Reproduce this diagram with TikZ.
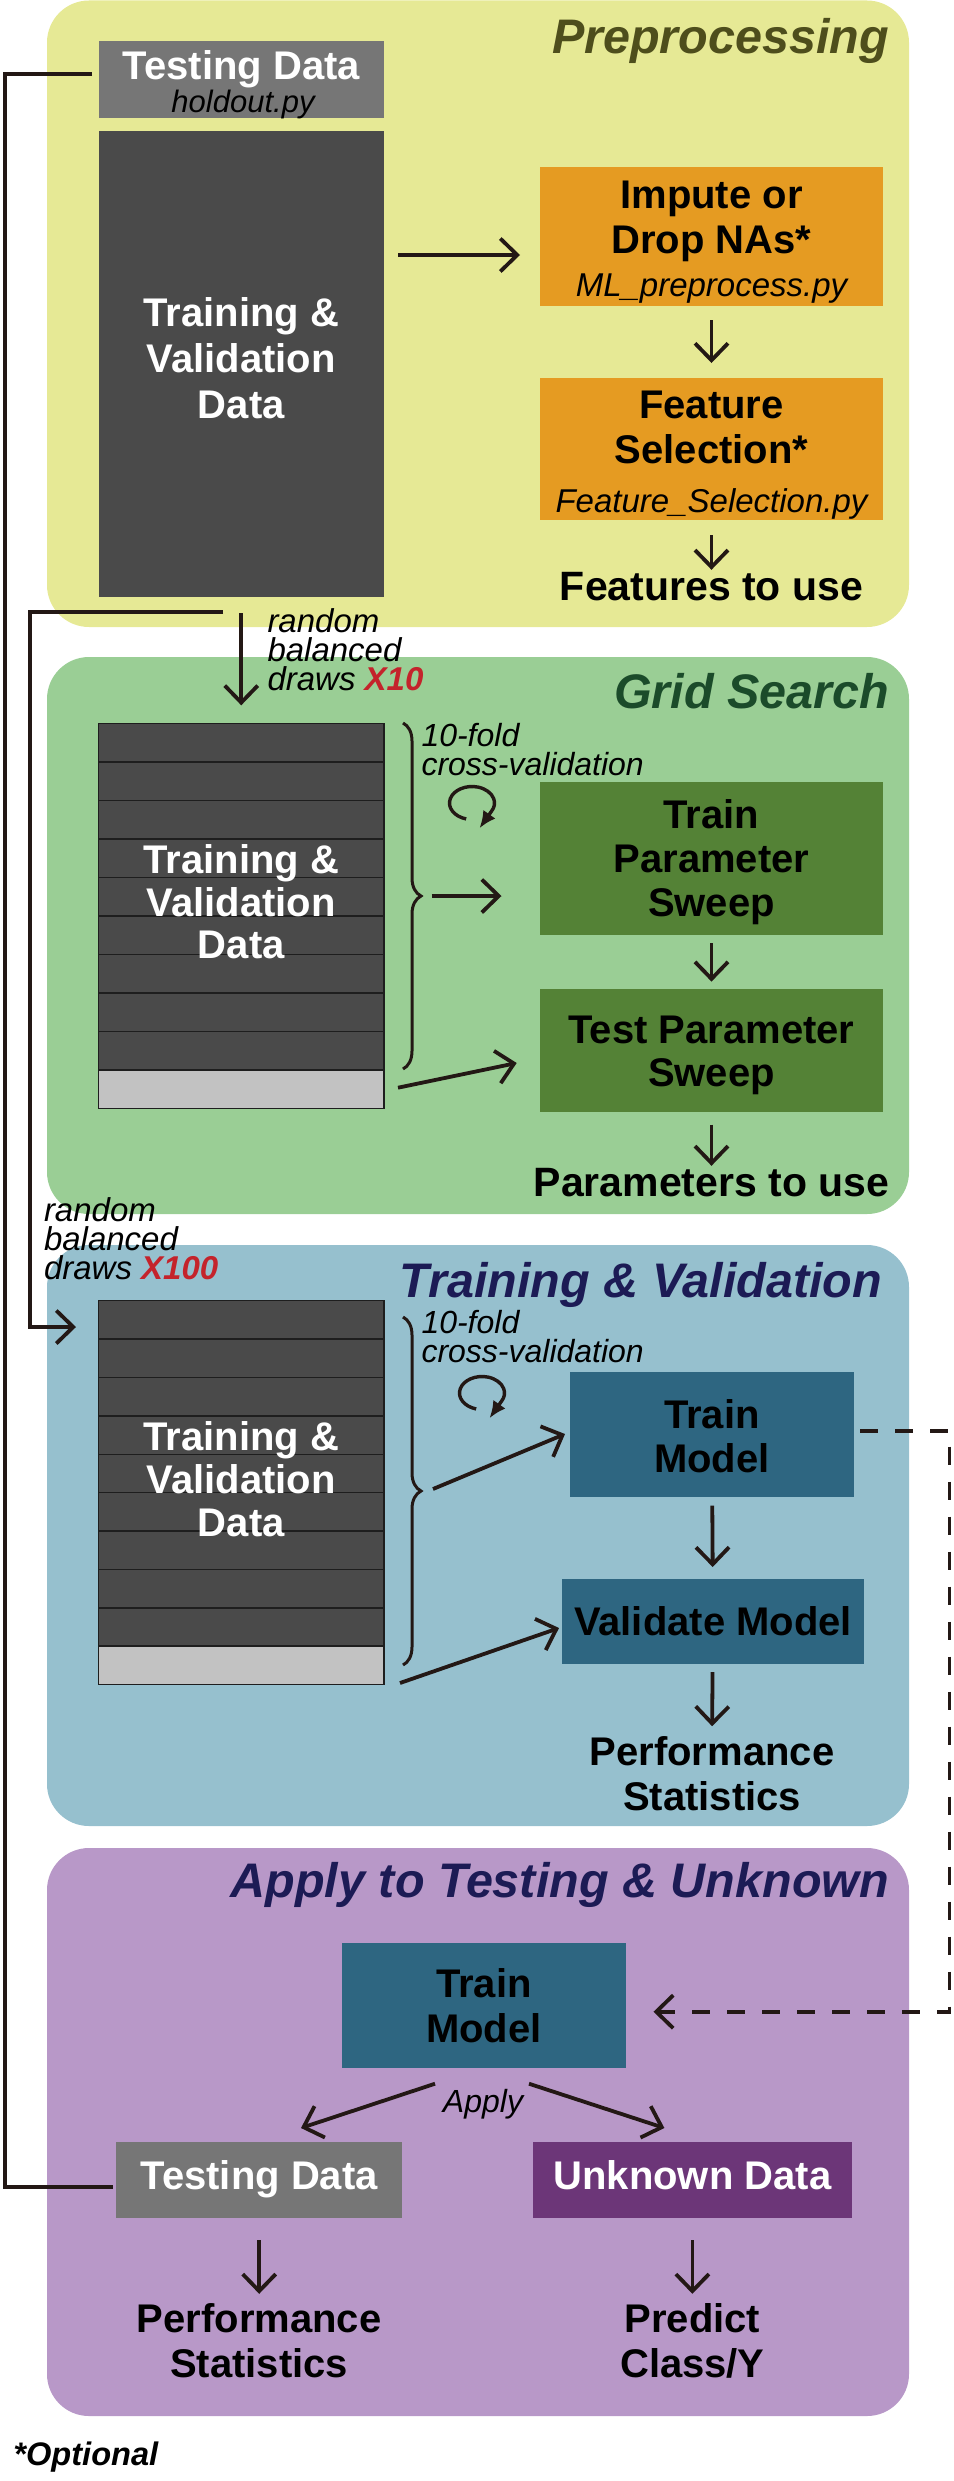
\documentclass[tikz,border=0pt]{standalone}
\usepackage{fontspec}
\setmainfont{Liberation Sans}
\usetikzlibrary{arrows.meta,fit,decorations.pathreplacing}
\definecolor{yellowP}{HTML}{E6E995}
\definecolor{greenP}{HTML}{9ACE95}
\definecolor{blueP}{HTML}{96C0CE}
\definecolor{purpleP}{HTML}{B898C8}
\definecolor{orangeB}{HTML}{E59B22}
\definecolor{greenB}{HTML}{548236}
\definecolor{blueB}{HTML}{2E6681}
\definecolor{grayB}{HTML}{767676}
\definecolor{darkB}{HTML}{4A4A4A}
\definecolor{lightR}{HTML}{C2C2C2}
\definecolor{unkB}{HTML}{6C3678}
\definecolor{ttlOlive}{HTML}{4E4E1C}
\definecolor{ttlGreen}{HTML}{1B4B2A}
\definecolor{ttlNavy}{HTML}{1C1B55}
\definecolor{redX}{HTML}{C4232B}
\definecolor{lc}{HTML}{231815}
\definecolor{rowl}{HTML}{1E1E1E}
\tikzset{
  panel/.style={inner sep=0pt, outer sep=0pt, rounded corners=42pt, draw=none},
  boxn/.style={inner sep=0pt, outer sep=0pt, draw=none},
  lbl/.style={inner sep=0pt, outer sep=0pt, text=black},
  bigb/.style={lbl, font=\fontsize{40}{45}\selectfont\bfseries, align=center},
  smi/.style={lbl, font=\fontsize{33}{29}\selectfont\itshape},
  ttl/.style={lbl, font=\fontsize{48.5}{48}\selectfont\bfseries\itshape, anchor=base east},
  arr/.style={draw=lc, line width=3.8pt, -{Straight Barb[length=17pt,width=33pt]}},
  ln/.style={draw=lc, line width=3.6pt},
  dsh/.style={draw=lc, line width=3.8pt, dash pattern=on 18pt off 17pt, -{Straight Barb[length=17pt,width=33pt]}},
  brc/.style={draw=lc, line width=3pt, decorate, decoration={brace, amplitude=18pt}},
  cyc/.style={draw=lc, line width=3.4pt, -{Latex[length=17pt,width=15pt]}},
  rowsep/.style={draw=rowl, line width=1.5pt},
}
\begin{document}
\begin{tikzpicture}[x=1pt,y=-1pt]
\useasboundingbox (0,0) rectangle (953,2481);

% ---------- panels ----------
\node[panel, fill=yellowP, fit={(47,0.5)(909,627)}] (p1) {};
\node[panel, fill=greenP, fit={(47,657)(909,1214)}] (p2) {};
\node[panel, fill=blueP, fit={(47,1245)(909,1826)}] (p3) {};
\node[panel, fill=purpleP, fit={(47,1848)(909,2416)}] (p4) {};

% ---------- titles ----------
\node[ttl, text=ttlOlive] (t1) at (889,53) {Preprocessing};
\node[ttl, text=ttlGreen] (t2) at (889,708) {Grid Search};
\node[ttl, text=ttlNavy] (t3) at (882,1297.6) {Training \& Validation};
\node[ttl, text=ttlNavy] (t4) at (889,1897) {Apply to Testing \& Unknown};

% ---------- Preprocessing ----------
\node[boxn, fill=grayB, fit={(98.5,41)(384,117.5)}] (td1) {};
\node[bigb, text=white, anchor=base] (td1t) at (241.5,79.6) {Testing Data};
\node[lbl, font=\fontsize{31}{31}\selectfont\itshape, anchor=base] (td1s) at (243,112) {holdout.py};

\node[boxn, fill=darkB, fit={(98.5,130.6)(384,597)}] (tv1) {};
\node[bigb, text=white, anchor=north, font=\fontsize{40}{46}\selectfont\bfseries] (tv1t) at (241.3,297.7) {Training \&\\Validation\\Data};

\node[boxn, fill=orangeB, fit={(540,167)(883,306)}] (imp) {};
\node[bigb, anchor=north] (impt) at (711.5,181.2) {Impute or\\Drop NAs*};
\node[smi, anchor=base] (imps) at (711.5,296) {ML\_preprocess.py};

\node[boxn, fill=orangeB, fit={(540,377.5)(883,519.6)}] (fs) {};
\node[bigb, anchor=north] (fst) at (711.5,391.2) {Feature\\Selection*};
\node[smi, anchor=base] (fss) at (711.5,512) {Feature\_Selection.py};

\node[bigb, anchor=base, font=\fontsize{41}{41}\selectfont\bfseries] (ftu) at (711.5,600) {Features to use};

\coordinate (a1s) at (398,255);
\coordinate (a1e) at (520,255);
\draw[arr] (a1s) -- (a1e);
\draw[arr, shorten <=14pt, shorten >=14.5pt] (imp) -- (fs);
\draw[arr, shorten <=15.4pt, shorten >=2pt] (fs) -- (ftu.north);

% ---------- Grid Search ----------
\node[boxn, fill=darkB, fit={(98.5,723.3)(384,1108.3)}] (tv2) {};
\fill[lightR] (98.5,1069.8) rectangle (384,1108.3);
\foreach \k in {1,...,9} \draw[rowsep] (98.5,{723.3+38.5*\k}) -- (384,{723.3+38.5*\k});
\draw[draw=rowl, line width=1.2pt] (tv2.north west) rectangle (tv2.south east);
\node[bigb, text=white, anchor=north, font=\fontsize{40}{42.5}\selectfont\bfseries] (tv2t) at (241.3,844.7) {Training \&\\Validation\\Data};

\draw[arr, shorten <=16pt, shorten >=18pt] (tv1) -- (tv2);
\node[smi, anchor=north west, align=left] (x10) at (267.5,609) {random\\balanced\\draws {\color{redX}\bfseries X10}};

\coordinate (bg1) at (403,723);
\coordinate (bg2) at (403,1069);
\draw[brc] (bg1) -- (bg2);
\node[smi, anchor=north west, align=left, font=\fontsize{32}{28.5}\selectfont\itshape] (cv1) at (421.5,723.6) {10-fold\\cross-validation};
\coordinate (cc1) at (472,803);
\draw[cyc] ([shift={(105:22.5 and 16.5)}]cc1) arc[start angle=105, end angle=390, x radius=22.5, y radius=16.5] -- ++(-12,17);

\node[boxn, fill=greenB, fit={(540,781.6)(883,934.7)}] (tps) {};
\node[bigb, anchor=north, font=\fontsize{40}{44}\selectfont\bfseries] (tpst) at (711.5,799.8) {Train\\Parameter\\Sweep};
\node[boxn, fill=greenB, fit={(540,988.6)(883,1112)}] (tsps) {};
\node[bigb, anchor=north, font=\fontsize{40}{43}\selectfont\bfseries] (tspst) at (711.5,1016.2) {Test Parameter\\Sweep};
\node[bigb, anchor=base, font=\fontsize{41}{41}\selectfont\bfseries] (ptu) at (711.5,1196) {Parameters to use};

\coordinate (g1s) at (431.6,896);
\coordinate (g1e) at (501.5,896);
\draw[arr] (g1s) -- (g1e);
\coordinate (g2s) at (398,1087.7);
\coordinate (g2e) at (516.7,1063);
\draw[arr] (g2s) -- (g2e);
\draw[arr, shorten <=8.3pt, shorten >=7pt] (tps) -- (tsps);
\draw[arr, shorten <=12.5pt, shorten >=2pt] (tsps) -- (ptu.north);

% ---------- Training & Validation ----------
\node[boxn, fill=darkB, fit={(98.5,1300.8)(384,1684.5)}] (tv3) {};
\fill[lightR] (98.5,1646.1) rectangle (384,1684.5);
\foreach \k in {1,...,9} \draw[rowsep] (98.5,{1300.8+38.37*\k}) -- (384,{1300.8+38.37*\k});
\draw[draw=rowl, line width=1.2pt] (tv3.north west) rectangle (tv3.south east);
\node[bigb, text=white, anchor=north, font=\fontsize{40}{42.7}\selectfont\bfseries] (tv3t) at (241.3,1421.8) {Training \&\\Validation\\Data};

\node[smi, anchor=north west, align=left] (x100) at (44,1197.4) {random\\balanced\\draws {\color{redX}\bfseries X100}};

\coordinate (br) at (223,611.7);
\coordinate (brc) at (30,611.7);
\coordinate (x100e) at (76,1327);
\draw[arr] (br) -- (brc) |- (x100e);

\coordinate (bt1) at (403,1317);
\coordinate (bt2) at (403,1665);
\draw[brc] (bt1) -- (bt2);
\node[smi, anchor=north west, align=left, font=\fontsize{32}{28.5}\selectfont\itshape] (cv2) at (421.5,1310.4) {10-fold\\cross-validation};
\coordinate (cc2) at (482,1393);
\draw[cyc] ([shift={(105:22.5 and 16.5)}]cc2) arc[start angle=105, end angle=390, x radius=22.5, y radius=16.5] -- ++(-12,17);

\node[boxn, fill=blueB, fit={(569.6,1371.8)(854,1496.7)}] (tm) {};
\node[bigb, anchor=north, font=\fontsize{40}{44}\selectfont\bfseries] (tmt) at (711.8,1399.2) {Train\\Model};
\node[boxn, fill=blueB, fit={(561.7,1579)(864.4,1664)}] (vm) {};
\node[bigb, anchor=base] (vmt) at (713,1635.5) {Validate Model};
\node[bigb, anchor=north] (ps1) at (712,1736.2) {Performance\\Statistics};

\coordinate (v1s) at (433,1489);
\coordinate (v1e) at (565,1434);
\draw[arr] (v1s) -- (v1e);
\coordinate (v2s) at (400,1683);
\coordinate (v2e) at (559,1628);
\draw[arr] (v2s) -- (v2e);
\draw[arr, shorten <=9pt, shorten >=12pt] (tm) -- (vm);
\draw[arr, shorten <=8pt, shorten >=10pt] (vm) -- (ps1.north);

% ---------- Apply ----------
\node[boxn, fill=blueB, fit={(341.6,1943.4)(626,2068)}] (tm4) {};
\node[bigb, anchor=north] (tm4t) at (483.8,1968.6) {Train\\Model};
\node[lbl, font=\fontsize{32}{32}\selectfont\itshape, anchor=base] (apl) at (483,2112) {Apply};

\node[boxn, fill=grayB, fit={(116,2141.7)(402.4,2218)}] (tdb) {};
\node[bigb, text=white, anchor=base] (tdbt) at (259.2,2189.5) {Testing Data};
\node[boxn, fill=unkB, fit={(532.5,2141.7)(852.3,2218)}] (ukb) {};
\node[bigb, text=white, anchor=base] (ukbt) at (692.4,2189.5) {Unknown Data};

\node[bigb, anchor=north] (ps2) at (259.2,2303.8) {Performance\\Statistics};
\node[bigb, anchor=north] (pred) at (692.4,2303.8) {Predict\\Class/Y};

\coordinate (ap1s) at (435,2083.7);
\coordinate (ap1e) at (301,2128);
\draw[arr] (ap1s) -- (ap1e);
\coordinate (ap2s) at (529,2083.7);
\coordinate (ap2e) at (664.4,2128);
\draw[arr] (ap2s) -- (ap2e);
\draw[arr, shorten <=22pt, shorten >=10pt] (tdb) -- (ps2.north);
\draw[arr, shorten <=22pt, shorten >=10pt] (ukb) -- (pred.north);

% dashed link
\coordinate (d1) at (860,1431);
\coordinate (d2) at (949.5,1431);
\coordinate (d3) at (653.5,2011.7);
\draw[dsh] (d1) -- (d2) |- (d3);

% left connector between testing data boxes
\coordinate (l1) at (92,74);
\coordinate (lc1) at (5,74);
\coordinate (l2) at (112.5,2186.7);
\draw[ln] (l1) -- (lc1) |- (l2);

\node[lbl, font=\fontsize{32.6}{32.6}\selectfont\bfseries\itshape, anchor=base west] (opt) at (13.4,2465.5) {*Optional};
\end{tikzpicture}
\end{document}
